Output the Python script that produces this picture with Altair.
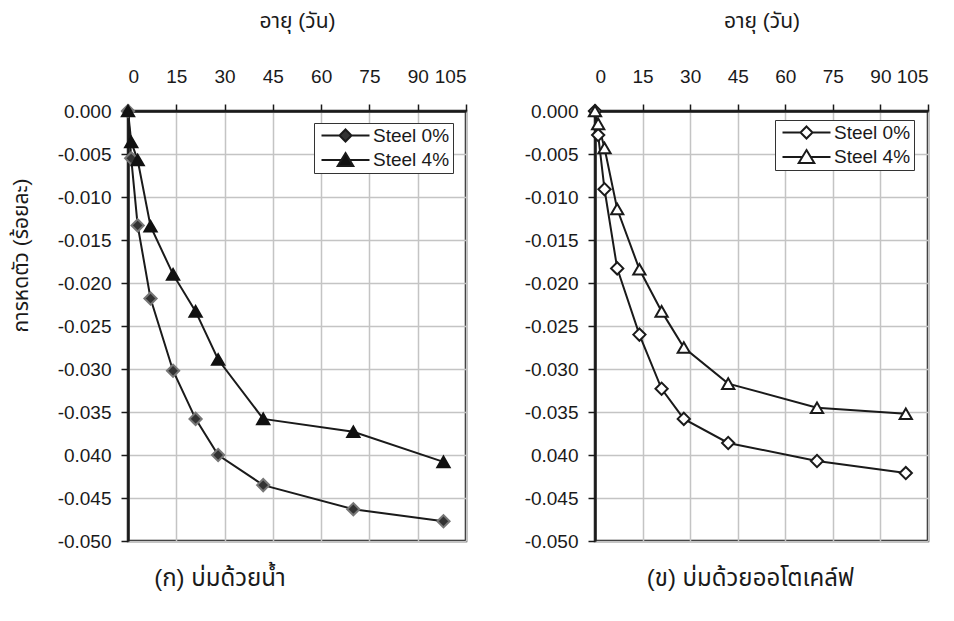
import altair as alt
import pandas as pd

DAYS = [0, 1, 3, 7, 14, 21, 28, 42, 70, 98]
SERIES = ["Steel 0%", "Steel 4%"]
WATER_S0 = [0.0, -0.0055, -0.0133, -0.0218, -0.0302, -0.0358, -0.0400, -0.0435, -0.0463, -0.0477]
WATER_S4 = [0.0, -0.0036, -0.0057, -0.0134, -0.0190, -0.0233, -0.0289, -0.0358, -0.0373, -0.0408]
AUTO_S0 = [0.0, -0.0028, -0.0091, -0.0183, -0.0260, -0.0323, -0.0358, -0.0386, -0.0407, -0.0421]
AUTO_S4 = [0.0, -0.0015, -0.0043, -0.0114, -0.0184, -0.0233, -0.0275, -0.0317, -0.0345, -0.0352]
X_TICKS = [0, 15, 30, 45, 60, 75, 90, 105]
Y_TICKS = [0.0, -0.005, -0.010, -0.015, -0.020, -0.025, -0.030, -0.035, -0.040, -0.045, -0.050]
Y_TICK_LABELS = ["0.000", "-0.005", "-0.010", "-0.015", "-0.020", "-0.025",
                 "-0.030", "-0.035", "0.040", "-0.045", "-0.050"]
X_TITLE = "อายุ (วัน)"
Y_TITLE = "การหดตัว (ร้อยละ)"
CAPTIONS = ["(ก) บ่มด้วยน้ำ", "(ข) บ่มด้วยออโตเคล์ฟ"]

FONT = "'Liberation Sans', Arial, 'Noto Sans Thai', 'Noto Sans', sans-serif"
INK = "#1a1a1a"

# legend symbol paths: line - marker - line
P_DIAMOND = "M-4,0L-1,0M1,0L4,0M0,-1L1,0L0,1L-1,0Z"
P_TRIANGLE = "M-4,0L-0.65,0M0.65,0L4,0M0,-1.15L1.3,1L-1.3,1Z"

label_expr = "[" + ",".join("'%s'" % s for s in Y_TICK_LABELS) + "][round(-datum.value*200)]"


def panel(s0, s4, caption, width, fills, strokes, show_ytitle, legend_x, legend_y, cap_dx):
    df = pd.DataFrame({
        "day": DAYS + DAYS,
        "value": s0 + s4,
        "series": [SERIES[0]] * len(DAYS) + [SERIES[1]] * len(DAYS),
    })
    x = alt.X("day:Q", scale=alt.Scale(domain=[0, 105], nice=False, zero=False),
              axis=alt.Axis(orient="top", values=X_TICKS, title=X_TITLE,
                            labelPadding=18, titlePadding=36, format="d"))
    yaxis = dict(values=Y_TICKS, labelExpr=label_expr, labelPadding=10)
    if show_ytitle:
        yaxis.update(title=Y_TITLE, titleY=144, titlePadding=26)
    else:
        yaxis.update(title=None)
    y = alt.Y("value:Q", scale=alt.Scale(domain=[-0.05, 0], nice=False), axis=alt.Axis(**yaxis))

    line = alt.Chart(df).mark_line(color=INK, strokeWidth=2).encode(x=x, y=y, detail="series:N")

    pts = alt.Chart(df).mark_point(filled=True, size=150, strokeWidth=2, opacity=1).encode(
        x=x, y=y,
        shape=alt.Shape("series:N", scale=alt.Scale(domain=SERIES, range=["diamond", "triangle-up"]),
                        legend=None),
        fill=alt.Fill("series:N", scale=alt.Scale(domain=SERIES, range=fills), legend=None),
        stroke=alt.Stroke("series:N", scale=alt.Scale(domain=SERIES, range=strokes), legend=None),
    )

    legend = alt.Legend(
        title=None, orient="none", legendX=legend_x, legendY=legend_y,
        padding=3, strokeColor="#333333", fillColor="white",
        labelFont=FONT, labelFontSize=19, labelColor=INK,
        labelExpr="datum.label + '\u00a0'",
        symbolOffset=19, labelOffset=18, rowPadding=2.5, symbolSize=144,
        symbolStrokeWidth=2, symbolOpacity=1,
    )
    # invisible layer that only carries the legend (line-marker-line symbols)
    leg = alt.Chart(df).mark_point(filled=True, size=150, stroke=INK, strokeWidth=2, opacity=0).encode(
        x=x, y=y,
        shape=alt.Shape("series:N", scale=alt.Scale(domain=SERIES, range=[P_DIAMOND, P_TRIANGLE]),
                        legend=legend),
        fill=alt.Fill("series:N", scale=alt.Scale(domain=SERIES, range=fills), legend=legend),
    )
    return alt.layer(line, pts, leg).resolve_scale(
        shape="independent", fill="independent"
    ).properties(
        width=width, height=430,
        title=alt.TitleParams(text=caption, orient="bottom", anchor="middle", frame="group",
                              dx=cap_dx, offset=16, font=FONT, fontSize=24,
                              fontWeight="normal", color=INK),
    )


left = panel(WATER_S0, WATER_S4, CAPTIONS[0], 338, ["#333333", "#111111"], ["#777777", "#111111"],
             True, 186, 12, -77)
right = panel(AUTO_S0, AUTO_S4, CAPTIONS[1], 333, ["white", "white"], [INK, INK],
              False, 180, 9, -11)

chart = alt.hconcat(left, right, spacing=52).resolve_scale(
    shape="independent", fill="independent", stroke="independent"
).configure_view(
    stroke=INK, strokeWidth=2.5
).configure_axis(
    domainColor=INK, domainWidth=2.5, tickColor=INK, tickWidth=1.5, tickSize=7,
    gridColor="#c4c4c4", gridWidth=1.5,
    labelFont=FONT, labelFontSize=19, labelColor=INK,
    titleFont=FONT, titleFontSize=21, titleFontWeight="normal", titleColor=INK,
).properties(padding={"left": 0, "top": 0, "right": 0, "bottom": 0}, background="white")

chart.save("out.html", embed_options={"renderer": "svg", "actions": False})
